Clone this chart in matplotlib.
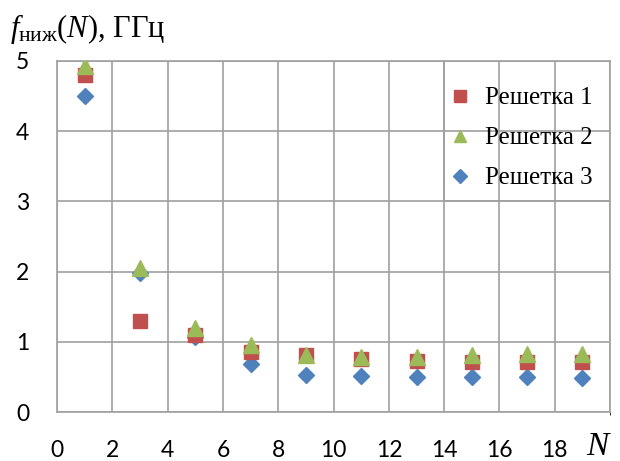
import matplotlib
matplotlib.use("Agg")
import matplotlib.pyplot as plt
from matplotlib.patches import Rectangle

N = [1, 3, 5, 7, 9, 11, 13, 15, 17, 19]
reshetka1 = [4.80, 1.30, 1.10, 0.86, 0.82, 0.76, 0.73, 0.72, 0.71, 0.72]
reshetka2 = [4.92, 2.05, 1.20, 0.95, 0.81, 0.79, 0.78, 0.81, 0.83, 0.83]
reshetka3 = [4.50, 1.98, 1.07, 0.69, 0.53, 0.52, 0.50, 0.50, 0.50, 0.49]
labels = ["Решетка 1", "Решетка 2", "Решетка 3"]
xticks = [0, 2, 4, 6, 8, 10, 12, 14, 16, 18]
yticks = [0, 1, 2, 3, 4, 5]

plt.rcParams['mathtext.fontset'] = 'custom'
plt.rcParams['mathtext.rm'] = 'Liberation Serif'
plt.rcParams['mathtext.it'] = 'Liberation Serif:italic'

fig = plt.figure(figsize=(6.2, 4.61), dpi=100)
ax = fig.add_axes([0.092, 0.106, 0.892, 0.762])
ax.set_xlim(0, 20)
ax.set_ylim(0, 5)
ax.set_xticks(xticks)
ax.set_yticks(yticks)
ax.set_xticks(range(0, 21, 2), minor=True)
ax.grid(True, which='both', color='#a0a0a0', linewidth=1.2, zorder=0)
for s in ax.spines.values():
    s.set_color('#a0a0a0')
    s.set_linewidth(1.2)
ax.tick_params(length=0, labelsize=16.5)
for lab in ax.get_xticklabels() + ax.get_yticklabels():
    lab.set_fontfamily('Lato')
ax.tick_params(axis='y', pad=20)
ax.tick_params(axis='x', pad=20)

# legend box region aligned with grid
ax.add_patch(Rectangle((14, 3), 6, 2, facecolor='white', edgecolor='#a0a0a0',
                       linewidth=1.2, zorder=1.5))

h1, = ax.plot(N, reshetka1, linestyle='none', marker='s', markersize=10,
              color='#c0504d', zorder=3, label=labels[0])
h2, = ax.plot(N, reshetka2, linestyle='none', marker='^', markersize=11,
              color='#9bbb59', zorder=4, label=labels[1])
h3, = ax.plot(N, reshetka3, linestyle='none', marker='D', markersize=8,
              color='#4f81bd', zorder=2.5, label=labels[2])

leg = ax.legend(handles=[h1, h2, h3], loc='center', bbox_to_anchor=(0.84, 0.78),
                frameon=False, prop={'family': 'Liberation Serif', 'size': 18},
                handlelength=0.8, handletextpad=0.6, labelspacing=0.7,
                markerscale=0.85)
leg.set_zorder(5)

fig.text(0.016, 0.937, r'$f_{\mathrm{ниж}}(N)$, ГГц', fontsize=22,
         family='Liberation Serif', va='center', ha='left')
fig.text(0.963, 0.03, 'N', fontsize=24, family='Liberation Serif',
         style='italic', va='center', ha='center')

fig.savefig('out.png', dpi=100)
